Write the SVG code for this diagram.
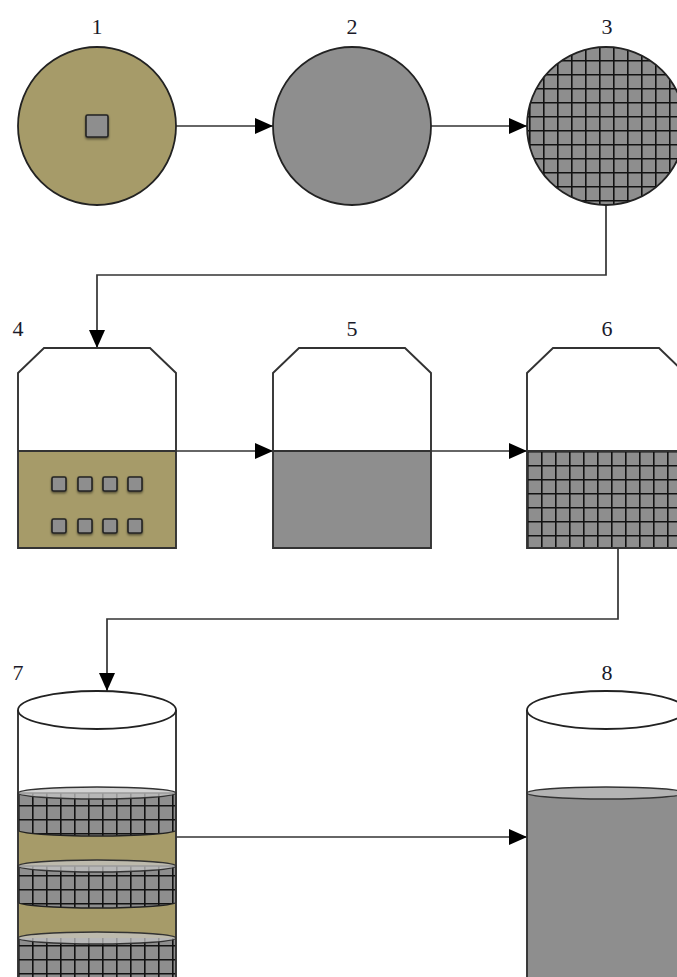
<svg xmlns="http://www.w3.org/2000/svg" width="677" height="977" viewBox="0 0 677 977">
  <style>
    .lbl { font-family: "Liberation Serif", "Times New Roman", serif; font-size: 22px; fill: #1a1a2a; text-anchor: middle; }
    .edge { fill: none; stroke: #333; stroke-width: 1.7; }
    .outline { fill: none; stroke: #333; stroke-width: 1.9; stroke-linejoin: miter; }
    .khaki { fill: #a69b69; }
    .gray { fill: #8e8e8e; }
    .chip { fill: #8e8e8e; stroke: #222; stroke-width: 1.6; filter: url(#shadow); }
    .cap { fill: #c4c4c4; fill-opacity: 0.75; stroke: #333; stroke-width: 1.3; }
  </style>
  <defs>
    <marker id="arrow" viewBox="0 0 18 16" refX="18" refY="8" markerWidth="18" markerHeight="16" markerUnits="userSpaceOnUse" orient="auto">
      <path d="M0,0 L18,8 L0,16 Z" fill="#000"/>
    </marker>
    <filter id="shadow" x="-40%" y="-40%" width="180%" height="180%">
      <feDropShadow dx="0" dy="1.5" stdDeviation="1.2" flood-color="#000" flood-opacity="0.5"/>
    </filter>
    <pattern id="gridCircle" patternUnits="userSpaceOnUse" x="599" y="116" width="14" height="14">
      <rect width="14" height="14" fill="#8e8e8e"/>
      <path d="M0.8,0 V14 M0,0.8 H14" stroke="#111" stroke-width="1.6"/>
    </pattern>
    <pattern id="gridTank" patternUnits="userSpaceOnUse" x="527" y="451" width="14" height="14">
      <rect width="14" height="14" fill="#8e8e8e"/>
      <path d="M0.8,0 V14 M0,0.8 H14" stroke="#111" stroke-width="1.6"/>
    </pattern>
    <pattern id="gridColumn" patternUnits="userSpaceOnUse" x="18" y="791" width="14" height="14">
      <rect width="14" height="14" fill="#8e8e8e"/>
      <path d="M0.8,0 V14 M0,0.8 H14" stroke="#111" stroke-width="1.6"/>
    </pattern>
  </defs>

  <!-- connectors -->
  <g id="connectors">
    <path class="edge" d="M176,126 H273" marker-end="url(#arrow)"/>
    <path class="edge" d="M431,126 H527" marker-end="url(#arrow)"/>
    <path class="edge" d="M606,205 V275 H97 V348" marker-end="url(#arrow)"/>
    <path class="edge" d="M176,451 H273" marker-end="url(#arrow)"/>
    <path class="edge" d="M431,451 H527" marker-end="url(#arrow)"/>
    <path class="edge" d="M618,549 V619 H107 V691" marker-end="url(#arrow)"/>
    <path class="edge" d="M176,837 H527" marker-end="url(#arrow)"/>
  </g>

  <!-- stage 1: disc with a single chip -->
  <g id="node1">
    <text class="lbl" x="97" y="34">1</text>
    <circle cx="97" cy="126" r="79" class="khaki" stroke="#222" stroke-width="1.8"/>
    <rect class="chip" x="86" y="115" width="22" height="22" rx="1.5"/>
  </g>

  <!-- stage 2: plain gray disc -->
  <g id="node2">
    <text class="lbl" x="352" y="34">2</text>
    <circle cx="352" cy="126" r="79" class="gray" stroke="#222" stroke-width="1.8"/>
  </g>

  <!-- stage 3: gridded disc -->
  <g id="node3">
    <text class="lbl" x="607" y="34">3</text>
    <circle cx="606" cy="126" r="79" fill="url(#gridCircle)" stroke="#222" stroke-width="1.8"/>
  </g>

  <!-- stage 4: vessel with khaki liquid and chips -->
  <g id="node4">
    <text class="lbl" x="18" y="336">4</text>
    <rect class="khaki" x="18" y="451" width="158" height="97"/>
    <path class="outline" d="M18,373 L44,348 H150 L176,373 V548 H18 Z M18,451 H176"/>
    <rect class="chip" x="52" y="477" width="14" height="14" rx="1.5"/>
    <rect class="chip" x="78" y="477" width="14" height="14" rx="1.5"/>
    <rect class="chip" x="103" y="477" width="14" height="14" rx="1.5"/>
    <rect class="chip" x="128" y="477" width="14" height="14" rx="1.5"/>
    <rect class="chip" x="52" y="519" width="14" height="14" rx="1.5"/>
    <rect class="chip" x="78" y="519" width="14" height="14" rx="1.5"/>
    <rect class="chip" x="103" y="519" width="14" height="14" rx="1.5"/>
    <rect class="chip" x="128" y="519" width="14" height="14" rx="1.5"/>
  </g>

  <!-- stage 5: vessel with gray liquid -->
  <g id="node5">
    <text class="lbl" x="352" y="336">5</text>
    <rect class="gray" x="273" y="451" width="158" height="97"/>
    <path class="outline" d="M273,373 L299,348 H405 L431,373 V548 H273 Z M273,451 H431"/>
  </g>

  <!-- stage 6: vessel with gridded liquid -->
  <g id="node6">
    <text class="lbl" x="607" y="336">6</text>
    <rect x="527" y="451" width="158" height="97" fill="url(#gridTank)"/>
    <path class="outline" d="M527,373 L553,348 H659 L685,373 V548 H527 Z M527,451 H685"/>
  </g>

  <!-- stage 7: column with alternating gridded and khaki layers -->
  <g id="node7">
    <text class="lbl" x="18" y="680">7</text>
    <rect x="18" y="710" width="158" height="90" fill="#fff"/>
    <rect class="khaki" x="18" y="828" width="158" height="40"/>
    <rect class="khaki" x="18" y="900" width="158" height="40"/>
    <path d="M18,793 V830 A79,6 0 0 0 176,830 V793 Z" fill="url(#gridColumn)" stroke="#222" stroke-width="1.4"/>
    <ellipse class="cap" cx="97" cy="793" rx="79" ry="6"/>
    <path d="M18,866 V902 A79,6 0 0 0 176,902 V866 Z" fill="url(#gridColumn)" stroke="#222" stroke-width="1.4"/>
    <ellipse class="cap" cx="97" cy="866" rx="79" ry="6"/>
    <rect x="18" y="938" width="158" height="50" fill="url(#gridColumn)"/>
    <ellipse class="cap" cx="97" cy="938" rx="79" ry="6"/>
    <path class="outline" d="M18,710 V990 M176,710 V990"/>
    <ellipse cx="97" cy="710" rx="79" ry="19" fill="#fff" stroke="#222" stroke-width="1.8"/>
  </g>

  <!-- stage 8: column filled with gray liquid -->
  <g id="node8">
    <text class="lbl" x="607" y="680">8</text>
    <rect x="527" y="710" width="158" height="90" fill="#fff"/>
    <rect class="gray" x="527" y="793" width="158" height="195"/>
    <ellipse cx="606" cy="793" rx="79" ry="6" fill="#b3b3b3" stroke="#333" stroke-width="1.4"/>
    <path class="outline" d="M527,710 V990 M685,710 V990"/>
    <ellipse cx="606" cy="710" rx="79" ry="19" fill="#fff" stroke="#222" stroke-width="1.8"/>
  </g>
</svg>
